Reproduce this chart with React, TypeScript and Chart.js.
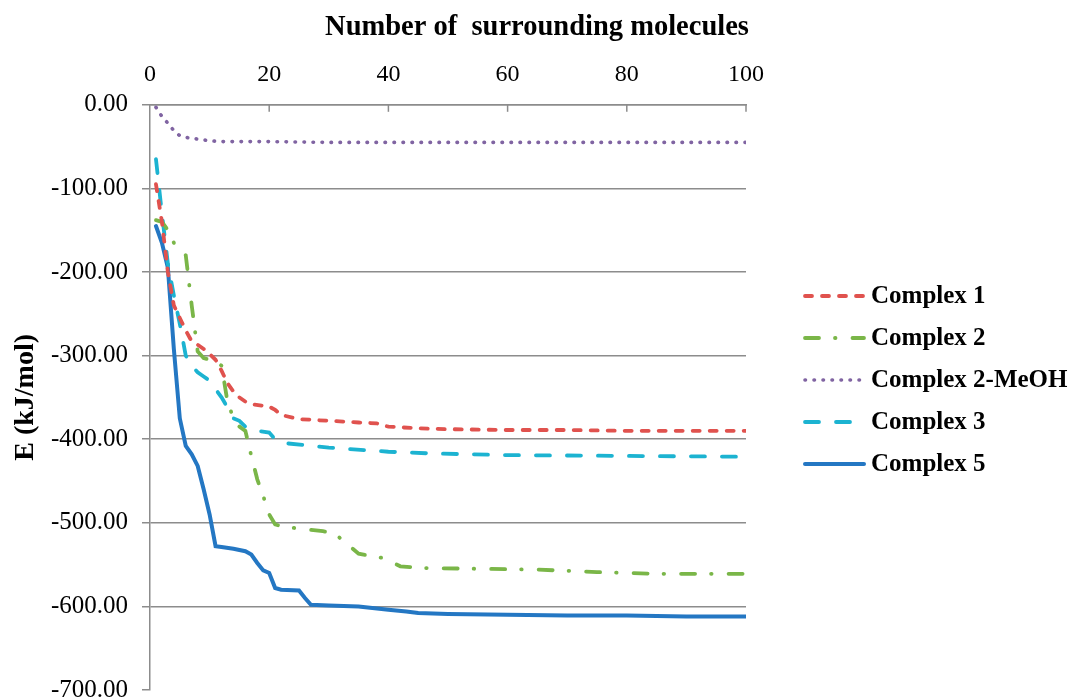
import React, { useEffect, useRef } from "react";
import { Chart, registerables } from "chart.js";

Chart.register(...registerables);

const seriesLabels = ["Complex 1", "Complex 2", "Complex 2-MeOH", "Complex 3", "Complex 5"];
const chartTitle = "Number of  surrounding molecules";
const yTitle = "E (kJ/mol)";

const c1X = [1, 2, 3, 4, 5, 6, 7, 8, 9, 10, 11, 12, 13, 14, 15, 16, 17, 20, 21, 22, 25, 30, 35, 38, 40, 45, 50, 60, 70, 80, 90, 100];
const c1Y = [-95, -140, -200, -240, -255, -270, -283, -287, -292, -298, -305, -318, -333, -343, -350, -355, -358, -361, -365, -371, -376, -378, -380, -381, -385, -387, -388, -389, -389, -390, -390, -390];

const c2X = [1, 2, 3, 4, 5, 6, 7, 8, 9, 10, 11, 12, 13, 14, 15, 16, 17, 18, 19, 20, 21, 22, 25, 29, 31, 33, 35, 39, 42, 45, 55, 65, 75, 85, 100];
const c2Y = [-138, -140, -150, -165, -172, -180, -240, -295, -303, -305, -307, -312, -355, -375, -385, -390, -420, -448, -468, -490, -502, -504, -507, -510, -513, -525, -537, -542, -552, -554, -555, -556, -559, -561, -561];

const c2mX = [1, 2, 3, 4, 5, 6, 7, 8, 9, 10, 12, 15, 20, 30, 40, 60, 80, 100];
const c2mY = [-3, -14, -22, -31, -37, -39, -40, -41, -42, -43, -44, -44, -44, -45, -45, -45, -45, -45];

const c3X = [1, 2, 3, 4, 5, 6, 7, 8, 9, 10, 11, 12, 13, 14, 15, 16, 18, 20, 21, 23, 30, 40, 47, 60, 80, 100];
const c3Y = [-65, -130, -190, -228, -262, -300, -312, -320, -325, -330, -340, -350, -362, -375, -378, -385, -390, -392, -400, -405, -410, -415, -417, -419, -420, -421];

const c5X = [1, 2, 3, 4, 5, 6, 7, 8, 9, 10, 11, 12, 14, 16, 17, 18, 19, 20, 21, 22, 25, 26, 27, 30, 35, 40, 43, 45, 50, 60, 70, 80, 90, 100];
const c5Y = [-145, -165, -195, -292, -375, -408, -418, -432, -460, -490, -528, -529, -531, -534, -538, -548, -557, -560, -578, -580, -581, -590, -598, -599, -600, -604, -606, -608, -609, -610, -611, -611, -612, -612];

const xTicks = [0, 20, 40, 60, 80, 100];
const yTicks = [0, -100, -200, -300, -400, -500, -600, -700];

const FONT = "'Liberation Serif', 'Times New Roman', serif";
const GRID = "#8c8c8c";

const toPts = (xs: number[], ys: number[]) => xs.map((x, i) => ({ x, y: ys[i] }));

const insideTicks = {
  id: "insideTicks",
  afterDatasetsDraw(chart: any) {
    const s = chart.scales.x;
    const ctx = chart.ctx;
    const top = chart.chartArea.top;
    ctx.save();
    ctx.strokeStyle = GRID;
    ctx.lineWidth = 1.5;
    xTicks.forEach((v) => {
      if (v === 0) return;
      const px = s.getPixelForValue(v);
      ctx.beginPath();
      ctx.moveTo(px, top);
      ctx.lineTo(px, top + 7);
      ctx.stroke();
    });
    ctx.restore();
  },
};

const titleAndLegend = {
  id: "titleAndLegend",
  afterDraw(chart: any) {
    const ctx = chart.ctx;
    ctx.save();
    ctx.fillStyle = "#000";
    ctx.font = `bold 28.5px ${FONT}`;
    ctx.textAlign = "center";
    ctx.textBaseline = "middle";
    ctx.fillText(chartTitle, 537, 28);

    const x0 = 805;
    const x1 = 864;
    const startY = 296;
    const step = 42;
    chart.data.datasets.forEach((ds: any, i: number) => {
      const y = startY + i * step;
      ctx.beginPath();
      ctx.strokeStyle = ds.borderColor;
      ctx.lineWidth = ds.borderWidth;
      ctx.lineCap = ds.borderCapStyle || "butt";
      ctx.setLineDash(ds.borderDash || []);
      ctx.moveTo(x0, y);
      ctx.lineTo(x1, y);
      ctx.stroke();
      ctx.setLineDash([]);
      ctx.fillStyle = "#000";
      ctx.font = `bold 25px ${FONT}`;
      ctx.textBaseline = "middle";
      ctx.textAlign = "left";
      ctx.fillText(ds.label, 871, y + 1);
    });
    ctx.restore();
  },
};

export default function App() {
  const ref = useRef<HTMLCanvasElement | null>(null);

  useEffect(() => {
    if (!ref.current) return;
    const chart = new Chart(ref.current, {
      type: "line",
      data: {
        datasets: [
          {
            label: seriesLabels[0],
            data: toPts(c1X, c1Y),
            borderColor: "#E0524E",
            borderWidth: 3.8,
            borderDash: [7, 10],
            borderCapStyle: "round",
            pointRadius: 0,
            tension: 0,
          },
          {
            label: seriesLabels[1],
            data: toPts(c2X, c2Y),
            borderColor: "#7AB648",
            borderWidth: 3.8,
            borderDash: [14, 16, 0.5, 17],
            borderCapStyle: "round",
            pointRadius: 0,
            tension: 0,
          },
          {
            label: seriesLabels[2],
            data: toPts(c2mX, c2mY),
            borderColor: "#8064A2",
            borderWidth: 3.6,
            borderDash: [0.5, 8.5],
            borderCapStyle: "round",
            pointRadius: 0,
            tension: 0,
          },
          {
            label: seriesLabels[3],
            data: toPts(c3X, c3Y),
            borderColor: "#1CB3D1",
            borderWidth: 3.8,
            borderDash: [14, 17],
            borderCapStyle: "round",
            pointRadius: 0,
            tension: 0,
          },
          {
            label: seriesLabels[4],
            data: toPts(c5X, c5Y),
            borderColor: "#2477C3",
            borderWidth: 4,
            borderDash: [],
            borderCapStyle: "round",
            pointRadius: 0,
            tension: 0,
          },
        ],
      },
      plugins: [insideTicks, titleAndLegend],
      options: {
        responsive: false,
        maintainAspectRatio: false,
        animation: false,
        devicePixelRatio: 1,
        layout: { autoPadding: false, padding: { left: 0, right: 329, top: 44, bottom: 9 } },
        plugins: {
          legend: { display: false },
          tooltip: { enabled: false },
          title: { display: false },
        },
        scales: {
          x: {
            type: "linear",
            position: "top",
            min: 0,
            max: 100,
            afterBuildTicks: (scale: any) => {
              scale.ticks = xTicks.map((v) => ({ value: v }));
            },
            ticks: {
              color: "#000",
              font: { family: FONT, size: 24 },
              padding: 16,
              maxRotation: 0,
            },
            grid: { display: false, drawTicks: false },
            border: { display: true, color: GRID, width: 1.5 },
          },
          y: {
            type: "linear",
            min: -700,
            max: 0,
            afterBuildTicks: (scale: any) => {
              scale.ticks = yTicks.map((v) => ({ value: v }));
            },
            afterFit: (scale: any) => {
              scale.width = 150;
              scale.paddingTop = 0;
              scale.paddingBottom = 0;
            },
            ticks: {
              color: "#000",
              font: { family: FONT, size: 25 },
              padding: 14,
              callback: (v: any) => Number(v).toFixed(2),
            },
            grid: {
              color: (c: any) => (c.tick && c.tick.value === -700 ? "rgba(0,0,0,0)" : GRID),
              tickColor: GRID,
              tickLength: 8,
              lineWidth: 1.5,
            },
            border: { display: true, color: GRID, width: 1.5 },
            title: {
              display: true,
              text: yTitle,
              color: "#000",
              font: { family: FONT, size: 28, weight: "bold" },
              padding: { top: 9, bottom: 4 },
            },
          },
        },
      },
    });
    return () => chart.destroy();
  }, []);

  return (
    <div style={{ position: "absolute", left: 0, top: 0, width: 1075, height: 699, background: "#fff" }}>
      <canvas ref={ref} width={1075} height={699} style={{ width: 1075, height: 699, display: "block" }} />
    </div>
  );
}
